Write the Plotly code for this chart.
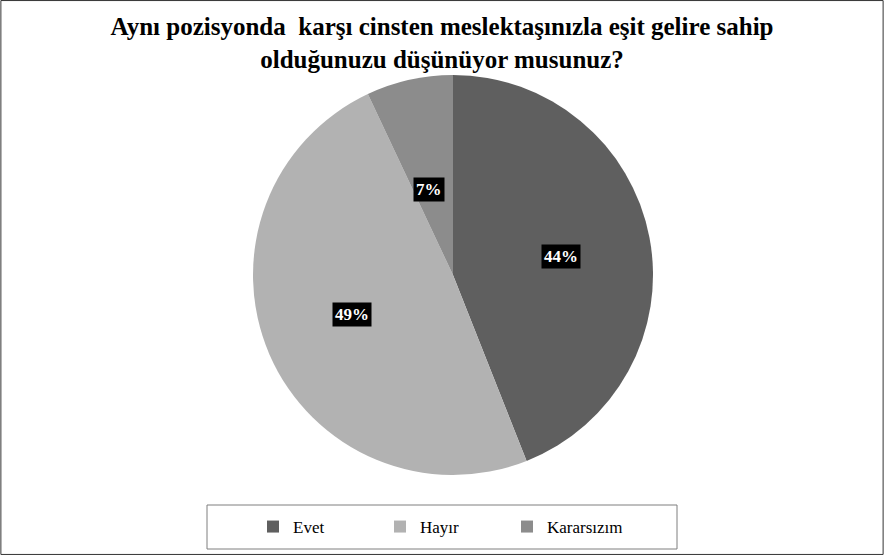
import numpy as np
import plotly.graph_objects as go

labels = ["Evet", "Hayır", "Kararsızım"]
values = [44, 49, 7]
colors = ["#5f5f5f", "#b2b2b2", "#8c8c8c"]
title_text = "Aynı pozisyonda  karşı cinsten meslektaşınızla eşit gelire sahip<br>olduğunuzu düşünüyor musunuz?"

W, H = 884, 555
cx, cy, R = 453, 275, 200
FONT = "Liberation Serif"

fig = go.Figure(go.Pie(
    labels=labels, values=values, sort=False, direction="clockwise", rotation=0,
    marker=dict(colors=colors, line=dict(width=0)),
    textinfo="none", hoverinfo="label+percent",
    domain=dict(x=[(cx - R) / W, (cx + R) / W], y=[(H - cy - R) / H, (H - cy + R) / H]),
))

total = float(sum(values))
cum = np.cumsum(values)
annotations = []
for v, c in zip(values, cum):
    mid = (c - v / 2) / total * 2 * np.pi
    px = cx + 0.55 * R * np.sin(mid)
    py = cy - 0.5 * R * np.cos(mid)
    annotations.append(dict(
        x=px / W, y=1 - py / H, xref="paper", yref="paper", showarrow=False,
        text=f"<b>{round(v / total * 100)}%</b>",
        font=dict(family=FONT, size=17, color="white"),
        bgcolor="black", borderpad=2,
    ))

fig.update_layout(
    width=W, height=H,
    margin=dict(l=0, r=0, t=0, b=0),
    paper_bgcolor="white", plot_bgcolor="white",
    font=dict(family=FONT),
    title=dict(text=f"<b>{title_text}</b>", x=0.5, xanchor="center", xref="container",
               y=1 - 35 / H, yanchor="middle", yref="container",
               font=dict(family=FONT, size=25, color="black")),
    showlegend=True,
    legend=dict(orientation="h", x=253 / W, xanchor="left", y=1 - 527 / H, yanchor="middle",
                entrywidth=82, entrywidthmode="pixels",
                font=dict(family=FONT, size=17, color="black"), bgcolor="rgba(0,0,0,0)"),
    annotations=annotations,
    shapes=[
        dict(type="rect", xref="paper", yref="paper", x0=0.001, x1=0.999, y0=0.001, y1=0.999,
             line=dict(color="#333333", width=1)),
        dict(type="rect", xref="paper", yref="paper", x0=207 / W, x1=677 / W,
             y0=1 - 549 / H, y1=1 - 505 / H, line=dict(color="#7f7f7f", width=1)),
    ],
)

fig.write_html("out.html", config={"displayModeBar": False},
               post_script="document.body.style.margin='0px';document.body.style.overflow='hidden';")
